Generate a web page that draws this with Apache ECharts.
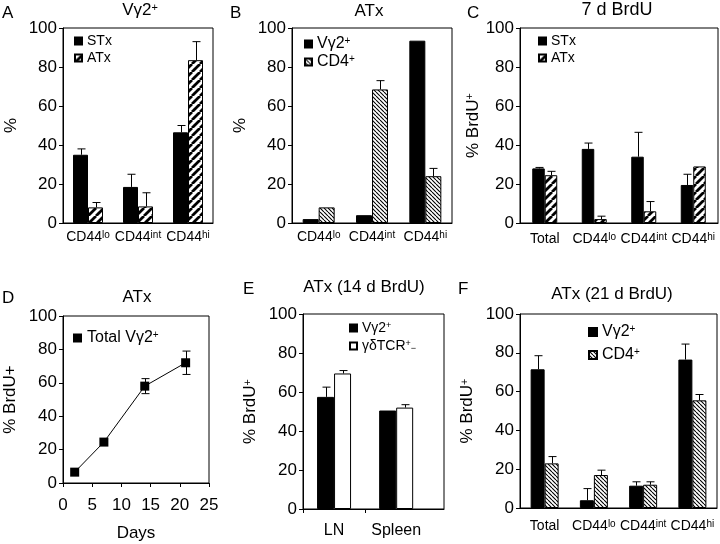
<!DOCTYPE html>
<html><head><meta charset="utf-8">
<script src="https://cdn.jsdelivr.net/npm/echarts@6/dist/echarts.min.js"></script>
<style>html,body{margin:0;padding:0;background:#fff}#c{width:720px;height:544px}</style>
</head><body><div id="c"></div><script>
// ---------------- data ----------------
const yTicks = [0, 20, 40, 60, 80, 100];

const catsA = ['CD44^lo', 'CD44^int', 'CD44^hi'];
const aSTx = [35, 18.5, 46.5];
const aSTxErr = [3, 6.5, 3.5];
const aATx = [8, 8.5, 83.5];
const aATxErr = [2.5, 7, 9.5];

const catsB = ['CD44^lo', 'CD44^int', 'CD44^hi'];
const bVg2 = [2, 4, 93.5];
const bVg2Err = [0, 0, 0];
const bCD4 = [8, 68.5, 24];
const bCD4Err = [0, 4.5, 4];

const catsC = ['Total', 'CD44^lo', 'CD44^int', 'CD44^hi'];
const cSTx = [28, 38, 34, 19.5];
const cSTxErr = [0.5, 3, 12.5, 5.5];
const cATx = [24.5, 2, 6, 29];
const cATxErr = [2, 1.5, 5, 0];

const dXTicks = [0, 5, 10, 15, 20, 25];
const dDays = [2, 7, 14, 21];
const dTotal = [6.5, 24.5, 58, 72];
const dErr = [0, 0, 4.5, 7];

const catsE = ['LN', 'Spleen'];
const eVg2 = [57.5, 50.5];
const eVg2Err = [5, 0];
const eGD = [69.5, 52];
const eGDErr = [1.5, 1.5];

const catsF = ['Total', 'CD44^lo', 'CD44^int', 'CD44^hi'];
const fVg2 = [71.5, 4, 11.5, 76.5];
const fVg2Err = [7, 6, 2, 8];
const fCD4 = [23, 17, 12, 55.5];
const fCD4Err = [3.5, 2.5, 1.5, 3];

// ---------------- styles ----------------
const FONT = '"Liberation Sans", Arial, sans-serif';
function supR(fs) { return { sup: { fontSize: fs, verticalAlign: 'top', lineHeight: fs, fontFamily: FONT, color: '#000' },
                             sub: { fontSize: fs, verticalAlign: 'bottom', lineHeight: fs, fontFamily: FONT, color: '#000' } }; }
function fmt(s) { const p = String(s).split('^'); return p.length > 1 ? p[0] + '{sup|' + p[1] + '}' : p[0]; }

function stripes(size, lw, dir) {
  const c = document.createElement('canvas'); c.width = c.height = size;
  const g = c.getContext('2d'); g.fillStyle = '#fff'; g.fillRect(0, 0, size, size);
  g.strokeStyle = '#000'; g.lineWidth = lw; g.beginPath();
  for (let k = -1; k <= 1; k++) {
    if (dir > 0) { g.moveTo(k * size, size); g.lineTo(k * size + size, 0); }
    else { g.moveTo(k * size, 0); g.lineTo(k * size + size, size); }
  }
  g.stroke(); return c;
}
const hatchThick = { image: stripes(8, 2.8, 1), repeat: 'repeat' };
const hatchThin = { image: stripes(4, 1.1, -1), repeat: 'repeat' };

const grids = [
  { left: 63, top: 28, width: 150, height: 195 },
  { left: 292, top: 28, width: 160, height: 195 },
  { left: 520, top: 28, width: 198, height: 195 },
  { left: 63, top: 316, width: 146, height: 167 },
  { left: 303, top: 314, width: 141, height: 195 },
  { left: 520, top: 314, width: 197, height: 194 }
].map(g => Object.assign(g, { show: true, borderColor: '#000', borderWidth: 1, containLabel: false }));

function yAx(gi, name, gap, nameFs) {
  return { type: 'value', gridIndex: gi, min: 0, max: 100, interval: 20,
    axisLine: { show: true, lineStyle: { color: '#000', width: 1 } },
    axisTick: { show: true, length: 4, lineStyle: { color: '#000' } },
    axisLabel: { fontSize: 17, color: '#000', fontFamily: FONT, margin: 6, customValues: yTicks },
    splitLine: { show: false },
    name: name, nameLocation: 'middle', nameGap: gap, nameRotate: 90,
    nameTextStyle: { fontSize: nameFs || 17, color: '#000', fontFamily: FONT, rich: supR(11) } };
}
function xCat(gi, cats, fs, margin) {
  return { type: 'category', gridIndex: gi, data: cats,
    axisLine: { show: true, lineStyle: { color: '#000', width: 1 } },
    axisTick: { show: false },
    axisLabel: { fontSize: fs, color: '#000', fontFamily: FONT, margin: margin, interval: 0, formatter: fmt, rich: supR(10) },
    splitLine: { show: false } };
}

function bar(name, gi, data, color, bw, xy) {
  return { type: 'bar', name: name, xAxisIndex: gi, yAxisIndex: gi,
    data: xy ? data.map((v, i) => [i + 0.5, v]) : data,
    barWidth: bw, barGap: '0%', silent: true,
    itemStyle: { color: color, borderColor: '#000', borderWidth: 1 } };
}
function err(gi, vals, errs, offset, both, xy) {
  return { type: 'custom', xAxisIndex: gi, yAxisIndex: gi, silent: true, z: 5,
    data: vals.map((v, i) => [xy ? i + 0.5 : i, v, errs[i]]),
    renderItem: function (params, api) {
      const x = api.value(0), v = api.value(1), e = api.value(2);
      if (!e) return null;
      const top = api.coord([x, v + e]);
      const base = api.coord([x, both ? v - e : v]);
      const cx = Math.round(top[0] + offset) + 0.5, cap = 4;
      const st = { stroke: '#000', lineWidth: 1 };
      const ch = [
        { type: 'line', shape: { x1: cx, y1: base[1], x2: cx, y2: top[1] }, style: st },
        { type: 'line', shape: { x1: cx - cap, y1: top[1], x2: cx + cap, y2: top[1] }, style: st }
      ];
      if (both) ch.push({ type: 'line', shape: { x1: cx - cap, y1: base[1], x2: cx + cap, y2: base[1] }, style: st });
      return { type: 'group', children: ch };
    } };
}

const labels = {
  'A_STx': 'STx', 'A_ATx': 'ATx', 'C_STx': 'STx', 'C_ATx': 'ATx',
  'B_Vg2': 'Vγ2{sup|+}', 'B_CD4': 'CD4{sup|+}',
  'D_Tot': 'Total Vγ2{sup|+}',
  'E_Vg2': 'Vγ2{sup|+}', 'E_GD': 'γδTCR{sup|+}{sub|−}',
  'F_Vg2': 'Vγ2{sup|+}', 'F_CD4': 'CD4{sup|+}'
};
function leg(names, left, top, fs, icon, gap) {
  return { data: names.map(n => ({ name: n, icon: 'rect' })), orient: 'vertical', left: left, top: top,
    itemWidth: icon, itemHeight: icon, itemGap: gap, padding: 0, selectedMode: false,
    formatter: n => labels[n],
    textStyle: { fontSize: fs, color: '#000', fontFamily: FONT, rich: supR(Math.round(fs * 0.62)) } };
}
function ttl(text, x, top, fs, align) {
  return { text: text, left: x, top: top, padding: 0, textAlign: align || 'center',
    textStyle: { fontSize: fs, fontWeight: 'normal', color: '#000', fontFamily: FONT, rich: supR(11) } };
}

const option = {
  backgroundColor: '#fff',
  animation: false,
  title: [
    ttl('A', 2, 5, 17, 'left'), ttl('B', 230, 5, 17, 'left'), ttl('C', 467, 5, 17, 'left'),
    ttl('D', 2, 290, 17, 'left'), ttl('E', 243, 281, 17, 'left'), ttl('F', 458, 281, 17, 'left'),
    ttl('Vγ2{sup|+}', 140, 2, 17), ttl('ATx', 369, 3, 17), ttl('7 d BrdU', 617, 1, 18),
    ttl('ATx', 137, 289, 17), ttl('ATx (14 d BrdU)', 364, 279, 17), ttl('ATx (21 d BrdU)', 612, 286, 17)
  ],
  grid: grids,
  xAxis: [
    xCat(0, catsA, 14, 7),
    xCat(1, catsB, 14, 7),
    xCat(2, catsC, 14, 9),
    { type: 'value', gridIndex: 3, min: 0, max: 25, interval: 5,
      axisLine: { show: true, lineStyle: { color: '#000' } },
      axisTick: { show: true, length: 4, lineStyle: { color: '#000' } },
      axisLabel: { fontSize: 17, color: '#000', fontFamily: FONT, margin: 14, customValues: dXTicks },
      splitLine: { show: false },
      name: 'Days', nameLocation: 'middle', nameGap: 42,
      nameTextStyle: { fontSize: 17, color: '#000', fontFamily: FONT } },
    { type: 'value', gridIndex: 4, min: 0, max: 2.27,
      axisLine: { show: true, lineStyle: { color: '#000' } },
      axisTick: { show: true, length: 4, lineStyle: { color: '#000' }, customValues: [0, 1] },
      axisLabel: { fontSize: 16, color: '#000', fontFamily: FONT, margin: 14,
        customValues: catsE.map((c, i) => i + 0.5), formatter: v => catsE[Math.floor(v)] },
      splitLine: { show: false } },
    xCat(5, catsF, 14, 11)
  ],
  yAxis: [
    yAx(0, '%', 43), yAx(1, '%', 43), yAx(2, '% BrdU{sup|+}', 36),
    yAx(3, '% BrdU+', 44), yAx(4, '% BrdU{sup|+}', 44), yAx(5, '% BrdU{sup|+}', 44)
  ],
  legend: [
    leg(['A_STx', 'A_ATx'], 74, 34, 14, 7, 3),
    leg(['B_Vg2', 'B_CD4'], 304, 36, 16, 7, 2),
    leg(['C_STx', 'C_ATx'], 538, 34, 14, 7, 3),
    leg(['D_Tot'], 73, 330, 16, 9, 4),
    leg(['E_Vg2', 'E_GD'], 349, 321, 14, 7, 4),
    leg(['F_Vg2', 'F_CD4'], 588, 324, 16, 8, 7)
  ],
  series: [
    bar('A_STx', 0, aSTx, '#000', 15), bar('A_ATx', 0, aATx, hatchThick, 15),
    err(0, aSTx, aSTxErr, -7.5), err(0, aATx, aATxErr, 7.5),

    bar('B_Vg2', 1, bVg2, '#000', 16), bar('B_CD4', 1, bCD4, hatchThin, 16),
    err(1, bVg2, bVg2Err, -8), err(1, bCD4, bCD4Err, 8),

    bar('C_STx', 2, cSTx, '#000', 12.5), bar('C_ATx', 2, cATx, hatchThick, 12.5),
    err(2, cSTx, cSTxErr, -6.25), err(2, cATx, cATxErr, 6.25),

    { type: 'line', name: 'D_Tot', xAxisIndex: 3, yAxisIndex: 3, silent: true,
      data: dDays.map((d, i) => [d, dTotal[i]]),
      symbol: 'rect', symbolSize: 9, showAllSymbol: true,
      itemStyle: { color: '#000' }, lineStyle: { color: '#000', width: 1 }, z: 3 },
    { type: 'custom', xAxisIndex: 3, yAxisIndex: 3, silent: true, z: 4,
      data: dDays.map((d, i) => [d, dTotal[i], dErr[i]]),
      renderItem: function (params, api) {
        const x = api.value(0), v = api.value(1), e = api.value(2);
        if (!e) return null;
        const t = api.coord([x, v + e]), b = api.coord([x, v - e]);
        const cx = Math.round(t[0]) + 0.5, st = { stroke: '#000', lineWidth: 1 };
        return { type: 'group', children: [
          { type: 'line', shape: { x1: cx, y1: b[1], x2: cx, y2: t[1] }, style: st },
          { type: 'line', shape: { x1: cx - 4, y1: t[1], x2: cx + 4, y2: t[1] }, style: st },
          { type: 'line', shape: { x1: cx - 4, y1: b[1], x2: cx + 4, y2: b[1] }, style: st }
        ] };
      } },

    bar('E_Vg2', 4, eVg2, '#000', 17, true), bar('E_GD', 4, eGD, '#fff', 17, true),
    err(4, eVg2, eVg2Err, -8.5, false, true), err(4, eGD, eGDErr, 8.5, false, true),

    bar('F_Vg2', 5, fVg2, '#000', 14), bar('F_CD4', 5, fCD4, hatchThin, 14),
    err(5, fVg2, fVg2Err, -7), err(5, fCD4, fCD4Err, 7)
  ]
};

const chart = echarts.init(document.getElementById('c'), null, { renderer: 'canvas' });
chart.setOption(option);
</script></body></html>
